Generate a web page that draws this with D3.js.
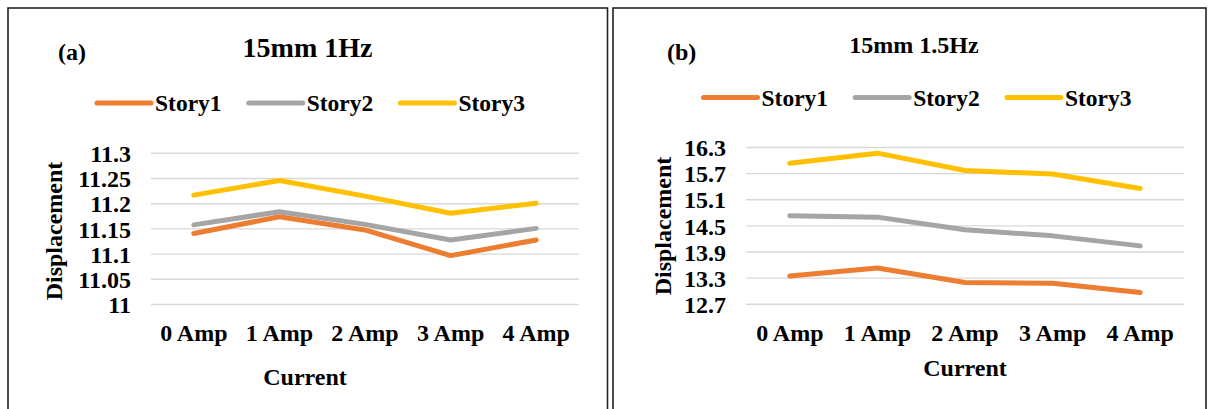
<!DOCTYPE html>
<html>
<head>
<meta charset="utf-8">
<script src="https://cdn.jsdelivr.net/npm/d3@7"></script>
<style>
  html, body { margin: 0; padding: 0; background: #fff; }
  svg { display: block; }
  svg text { font-family: "Liberation Serif", "Times New Roman", serif; font-weight: bold; fill: #000; }
</style>
</head>
<body>
<svg id="chart" width="1208" height="409"></svg>
<script>
// ---- data ----
const categories = ["0 Amp", "1 Amp", "2 Amp", "3 Amp", "4 Amp"];
const seriesNames = ["Story1", "Story2", "Story3"];
const seriesColors = ["#ED7D31", "#A5A5A5", "#FFC000"];

const storyA1 = [11.141, 11.174, 11.148, 11.097, 11.128];
const storyA2 = [11.158, 11.184, 11.159, 11.128, 11.151];
const storyA3 = [11.217, 11.246, 11.215, 11.181, 11.201];
const ticksA = [11, 11.05, 11.1, 11.15, 11.2, 11.25, 11.3];

const storyB1 = [13.35, 13.53, 13.20, 13.18, 12.97];
const storyB2 = [14.73, 14.70, 14.41, 14.27, 14.04];
const storyB3 = [15.94, 16.17, 15.77, 15.69, 15.36];
const ticksB = [12.7, 13.3, 13.9, 14.5, 15.1, 15.7, 16.3];

const titleA = "15mm 1Hz", labelA = "(a)";
const titleB = "15mm 1.5Hz", labelB = "(b)";
const xTitle = "Current", yTitle = "Displacement";

const svg = d3.select("#chart");

function panel(cfg) {
  const g = svg.append("g");
  g.append("rect")
    .attr("x", cfg.box[0]).attr("y", cfg.box[1])
    .attr("width", cfg.box[2]).attr("height", cfg.box[3])
    .attr("fill", "none").attr("stroke", "#222").attr("stroke-width", 1.6);

  const x = d3.scaleBand().domain(categories).range([cfg.plotX0, cfg.plotX1]);
  const y = d3.scaleLinear().domain([cfg.ticks[0], cfg.ticks[cfg.ticks.length - 1]])
    .range([cfg.plotY0, cfg.plotY1]);

  g.append("g").selectAll("line").data(cfg.ticks).join("line")
    .attr("x1", cfg.plotX0).attr("x2", cfg.plotX1)
    .attr("y1", d => y(d)).attr("y2", d => y(d))
    .attr("stroke", "#d9d9d9").attr("stroke-width", 1.4);

  const yAxis = d3.axisLeft(y).tickValues(cfg.ticks).tickSize(0).tickPadding(0)
    .tickFormat(d => String(d));
  const ya = g.append("g").attr("transform", `translate(${cfg.yLabelRight},0)`).call(yAxis);
  ya.attr("font-size", null).attr("font-family", null);
  ya.select(".domain").remove();
  ya.selectAll("text").style("font-size", "24px").attr("dy", "0.34em");

  const xAxis = d3.axisBottom(x).tickSize(0).tickPadding(0);
  const xa = g.append("g").attr("transform", `translate(0,${cfg.xLabelBase})`).call(xAxis);
  xa.attr("font-size", null).attr("font-family", null);
  xa.select(".domain").remove();
  xa.selectAll("text").style("font-size", "24px").attr("dy", 0).attr("y", 0);

  const line = d3.line().x((d, i) => x(categories[i]) + x.bandwidth() / 2).y(d => y(d));
  cfg.series.forEach((s, i) => {
    g.append("path").datum(s).attr("d", line)
      .attr("fill", "none").attr("stroke", seriesColors[i])
      .attr("stroke-width", 5).attr("stroke-linecap", "round").attr("stroke-linejoin", "round");
  });

  seriesNames.forEach((n, i) => {
    const lx = cfg.legendX + i * cfg.legendStep;
    g.append("line").attr("x1", lx).attr("x2", lx + 54)
      .attr("y1", cfg.legendY).attr("y2", cfg.legendY)
      .attr("stroke", seriesColors[i]).attr("stroke-width", 5).attr("stroke-linecap", "round");
    g.append("text").attr("x", lx + 58).attr("y", cfg.legendY + 8)
      .style("font-size", "23.5px").text(n);
  });

  g.append("text").attr("x", cfg.titleX).attr("y", cfg.titleY)
    .attr("text-anchor", "middle").style("font-size", cfg.titleSize + "px").text(cfg.title);
  g.append("text").attr("x", cfg.labelX).attr("y", 60).style("font-size", "24px").text(cfg.label);
  g.append("text").attr("x", cfg.xTitleX).attr("y", cfg.xTitleY)
    .attr("text-anchor", "middle").style("font-size", "24px").text(xTitle);
  g.append("text")
    .attr("transform", `translate(${cfg.yTitleX},${cfg.yTitleY}) rotate(-90)`)
    .attr("text-anchor", "middle").style("font-size", "24px").text(yTitle);
}

panel({
  box: [8, 8, 599.5, 420],
  plotX0: 151, plotX1: 579, plotY0: 304.5, plotY1: 153.3,
  ticks: ticksA, series: [storyA1, storyA2, storyA3],
  yLabelRight: 131, xLabelBase: 341,
  legendX: 97, legendStep: 151.7, legendY: 103,
  title: titleA, titleX: 307.5, titleY: 56.5, titleSize: 28,
  label: labelA, labelX: 58,
  xTitleX: 305, xTitleY: 385,
  yTitleX: 62, yTitleY: 231
});

panel({
  box: [613, 8, 593, 420],
  plotX0: 746, plotX1: 1184, plotY0: 304.2, plotY1: 147.5,
  ticks: ticksB, series: [storyB1, storyB2, storyB3],
  yLabelRight: 726, xLabelBase: 341,
  legendX: 703.5, legendStep: 151.7, legendY: 97.5,
  title: titleB, titleX: 914, titleY: 53, titleSize: 24,
  label: labelB, labelX: 667,
  xTitleX: 965, xTitleY: 376,
  yTitleX: 671, yTitleY: 226
});
</script>
</body>
</html>
